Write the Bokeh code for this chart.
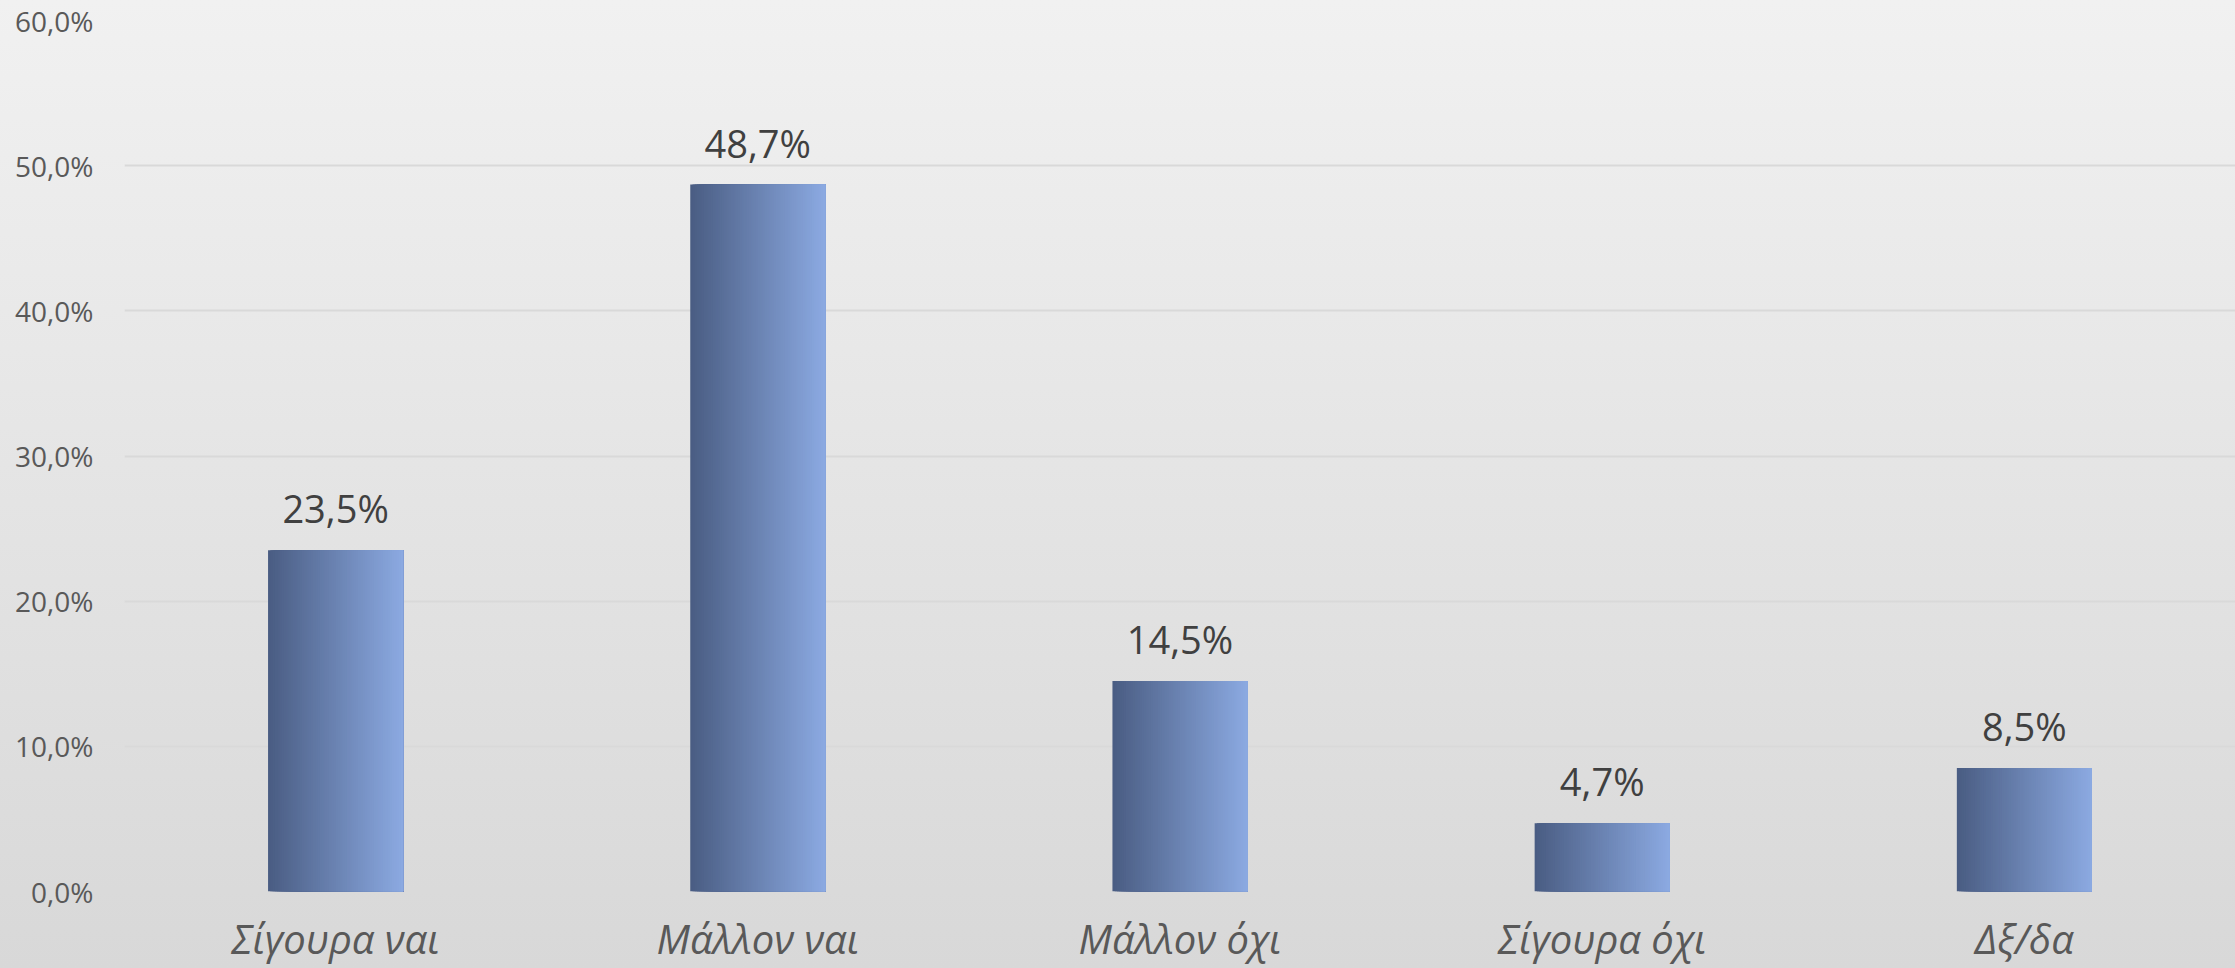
from bokeh.plotting import figure
from bokeh.models import FactorRange, Range1d, FixedTicker, ColumnDataSource, LabelSet
from bokeh.transform import dodge
from bokeh.core.properties import value
from bokeh.embed import file_html
from bokeh.resources import INLINE

# ---- data ----
categories = ["Σίγουρα ναι", "Μάλλον ναι", "Μάλλον όχι", "Σίγουρα όχι", "Δξ/δα"]
values = [23.5, 48.7, 14.5, 4.7, 8.5]
y_ticks = [0, 10, 20, 30, 40, 50, 60]
y_tick_labels = ["0,0%", "10,0%", "20,0%", "30,0%", "40,0%", "50,0%", "60,0%"]
value_labels = [f"{v:.1f}".replace(".", ",") + "%" for v in values]

FONT = "Open Sans"
W, H = 2235, 968

src = ColumnDataSource(data=dict(cat=categories, val=values, lbl=value_labels))

p = figure(
    width=W, height=H,
    x_range=FactorRange(factors=categories, range_padding=0),
    y_range=Range1d(0, 60),
    output_backend="svg", toolbar_location=None,
    min_border_top=20, min_border_bottom=77,
    min_border_left=124, min_border_right=0,
)
p.styles = {"background": "linear-gradient(to bottom, #f1f1f1, #d8d8d8)"}
p.border_fill_color = None
p.background_fill_color = None
p.outline_line_color = None

# gradient bars: overlapping slices, each from its left edge to the bar's right edge
N = 60
bw = 0.32
c0 = (74, 93, 131)
c1 = (139, 169, 225)
for i in range(N):
    t = i / (N - 1)
    col = "#%02x%02x%02x" % tuple(int(round(a + (b - a) * t)) for a, b in zip(c0, c1))
    left = -bw / 2 + i * bw / N
    right = bw / 2
    p.vbar(x=dodge("cat", (left + right) / 2, range=p.x_range), top="val", bottom=0,
           width=right - left, source=src, fill_color=col, line_color=None)

labels = LabelSet(x="cat", y="val", text="lbl", source=src,
                  text_align="center", text_baseline="alphabetic", y_offset=27,
                  text_font=value(FONT), text_font_size="38px", text_color="#404040")
p.add_layout(labels)

# grid
p.xgrid.grid_line_color = None
p.ygrid.grid_line_color = "#d9d9d9"
p.ygrid.grid_line_width = 2

# y axis
p.yaxis.ticker = FixedTicker(ticks=y_ticks)
p.yaxis.major_label_overrides = {t: l for t, l in zip(y_ticks, y_tick_labels)}
p.yaxis.axis_line_color = None
p.yaxis.major_tick_line_color = None
p.yaxis.minor_tick_line_color = None
p.yaxis.major_tick_out = 0
p.yaxis.minor_tick_out = 0
p.yaxis.major_label_standoff = 31
p.yaxis.major_label_text_font = FONT
p.yaxis.major_label_text_font_size = "28px"
p.yaxis.major_label_text_color = "#595959"

# x axis
p.xaxis.axis_line_color = None
p.xaxis.major_tick_line_color = None
p.xaxis.major_tick_out = 0
p.xaxis.major_label_standoff = 19
p.xaxis.major_label_text_font = FONT
p.xaxis.major_label_text_font_style = "italic"
p.xaxis.major_label_text_font_size = "40px"
p.xaxis.major_label_text_color = "#595959"

open("out.html", "w").write(file_html(p, INLINE))
